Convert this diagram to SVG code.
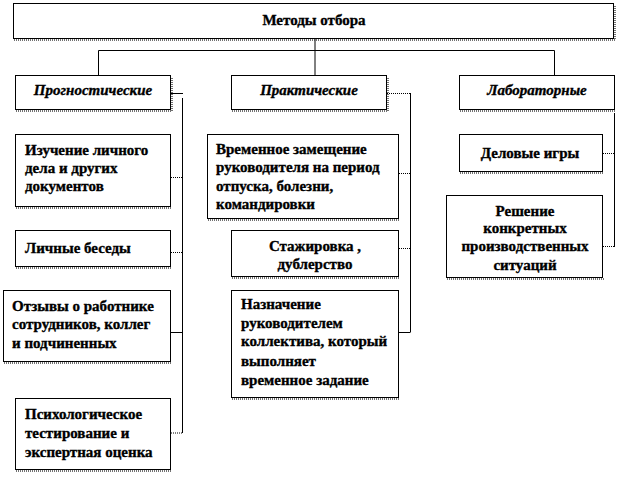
<svg xmlns="http://www.w3.org/2000/svg" width="627" height="483" viewBox="0 0 627 483">
<defs>
<style>
.box{fill:#fff;stroke:#000;stroke-width:1}
.sh{fill:none;stroke:#444;stroke-width:1.5;stroke-dasharray:1 1}
text{font-family:"Liberation Serif","Times New Roman",serif;font-weight:bold;font-size:15px;fill:#000;stroke:#000;stroke-width:0.35}
.i{font-style:italic}
.c{text-anchor:middle}
.ln{fill:none;stroke:#000;stroke-width:1}
.dt{fill:none;stroke:#000;stroke-width:1;stroke-dasharray:1 1}
</style>
</defs>
<rect width="627" height="483" fill="#fff"/>
<g id="connectors">
<line class="ln" x1="315" y1="39" x2="315" y2="75"/>
<line class="ln" x1="98.5" y1="50.5" x2="554.5" y2="50.5"/>
<line class="ln" x1="98.5" y1="50.5" x2="98.5" y2="75"/>
<line class="ln" x1="554.5" y1="50.5" x2="554.5" y2="75"/>
<line class="ln" x1="171" y1="93.5" x2="183" y2="93.5"/>
<line class="ln" x1="182.5" y1="98" x2="182.5" y2="433"/>
<line class="dt" x1="171" y1="177.5" x2="182" y2="177.5"/>
<line class="dt" x1="171" y1="252.5" x2="182" y2="252.5"/>
<line class="ln" x1="171" y1="332.5" x2="182" y2="332.5"/>
<line class="dt" x1="171" y1="433" x2="182" y2="433"/>
<line class="dt" x1="387" y1="93.5" x2="410" y2="93.5"/>
<line class="ln" x1="410.5" y1="93" x2="410.5" y2="332.5"/>
<line class="dt" x1="399" y1="173.5" x2="410" y2="173.5"/>
<line class="dt" x1="399" y1="248.5" x2="410" y2="248.5"/>
<line class="ln" x1="399" y1="332.5" x2="410" y2="332.5"/>
<line class="ln" x1="614.5" y1="113" x2="614.5" y2="247"/>
<line class="dt" x1="603" y1="153.5" x2="614" y2="153.5"/>
<line class="dt" x1="603" y1="246.5" x2="614" y2="246.5"/>
</g>
<g id="root">
<rect class="box" x="13.5" y="3.5" width="600" height="35"/>
<polyline class="sh" points="14,40 615,40 615,5"/>
<text class="c" x="314" y="25">Методы отбора</text>
</g>
<g id="prog">
<rect class="box" x="15.5" y="75.5" width="155" height="34"/>
<polyline class="sh" points="16,111 172,111 172,77"/>
<text class="i c" x="93" y="95">Прогностические</text>
</g>
<g id="prakt">
<rect class="box" x="231.5" y="75.5" width="155" height="34"/>
<polyline class="sh" points="232,111 388,111 388,77"/>
<text class="i c" x="309" y="95">Практические</text>
</g>
<g id="lab">
<rect class="box" x="459.5" y="75.5" width="155" height="34"/>
<polyline class="sh" points="460,111 616,111"/>
<text class="i c" x="537" y="95">Лабораторные</text>
</g>
<g id="izuch">
<rect class="box" x="15.5" y="134.5" width="155" height="72"/>
<polyline class="sh" points="16,208 172,208"/>
<text x="25" y="155">Изучение личного</text>
<text x="25" y="173">дела и других</text>
<text x="25" y="191">документов</text>
</g>
<g id="besedy">
<rect class="box" x="15.5" y="230.5" width="155" height="36"/>
<polyline class="sh" points="16,268 172,268"/>
<text x="25" y="253">Личные  беседы</text>
</g>
<g id="otzyvy">
<rect class="box" x="3.5" y="290.5" width="167" height="71"/>
<polyline class="sh" points="4,363 172,363"/>
<text x="12" y="311">Отзывы о работнике</text>
<text x="12" y="329">сотрудников, коллег</text>
<text x="12" y="348">и подчиненных</text>
</g>
<g id="psih">
<rect class="box" x="15.5" y="398.5" width="155" height="71"/>
<polyline class="sh" points="16,471 172,471"/>
<text x="25" y="419">Психологическое</text>
<text x="25" y="438">тестирование и</text>
<text x="25" y="457">экспертная оценка</text>
</g>
<g id="vremen">
<rect class="box" x="207.5" y="134.5" width="191" height="84"/>
<polyline class="sh" points="208,220 400,220"/>
<text x="216" y="154">Временное замещение</text>
<text x="216" y="172">руководителя  на период</text>
<text x="216" y="191">отпуска,  болезни,</text>
<text x="216" y="209">командировки</text>
</g>
<g id="stazh">
<rect class="box" x="231.5" y="230.5" width="167" height="46"/>
<polyline class="sh" points="232,278 400,278"/>
<text class="c" x="315" y="251">Стажировка ,</text>
<text class="c" x="315" y="269">дублерство</text>
</g>
<g id="naznach">
<rect class="box" x="231.5" y="290.5" width="167" height="107"/>
<polyline class="sh" points="232,399 400,399"/>
<text x="241" y="309">Назначение</text>
<text x="241" y="328">руководителем</text>
<text x="241" y="346">коллектива, который</text>
<text x="241" y="366">выполняет</text>
<text x="241" y="385">временное задание</text>
</g>
<g id="delovye">
<rect class="box" x="459.5" y="134.5" width="143" height="37"/>
<polyline class="sh" points="460,173 604,173"/>
<text class="c" x="530" y="158">Деловые игры</text>
</g>
<g id="reshenie">
<rect class="box" x="446.5" y="195.5" width="156" height="82"/>
<polyline class="sh" points="447,279 604,279"/>
<text class="c" x="525" y="216">Решение</text>
<text class="c" x="525" y="233">конкретных</text>
<text class="c" x="525" y="251">производственных</text>
<text class="c" x="525" y="270">ситуаций</text>
</g>
</svg>
